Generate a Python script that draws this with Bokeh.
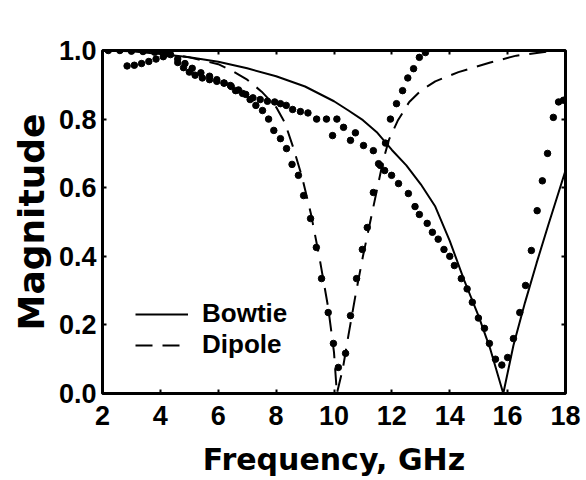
from bokeh.plotting import figure
from bokeh.models import LinearAxis, FixedTicker, Legend, LegendItem, Range1d, PrintfTickFormatter
from bokeh.embed import file_html
from bokeh.resources import INLINE

# ---- data ----
x_ticks = [2, 4, 6, 8, 10, 12, 14, 16, 18]
y_ticks = [0.0, 0.2, 0.4, 0.6, 0.8, 1.0]

bowtie_x = [2, 3, 4, 5, 6, 7, 8, 9, 10, 10.5, 11, 11.5, 12, 12.5, 13, 13.5, 14, 14.5, 15, 15.4, 15.85, 16.2, 16.6, 17.0, 17.4, 17.7, 18]
bowtie_y = [1.0, 0.998, 0.99, 0.98, 0.967, 0.948, 0.925, 0.895, 0.852, 0.825, 0.797, 0.76, 0.71, 0.665, 0.61, 0.545, 0.445, 0.33, 0.225, 0.13, 0.0, 0.14, 0.265, 0.38, 0.49, 0.57, 0.65]

dipole_x = [2, 3, 4, 5, 6, 6.5, 7, 7.5, 8, 8.3, 8.6, 8.9, 9.2, 9.5, 9.8, 10.0, 10.1, 10.3, 10.5, 10.75, 11.0, 11.25, 11.5, 11.7, 11.9, 12.2, 12.6, 13.0, 13.5, 14.3, 15.4, 16.3, 17.5, 18]
dipole_y = [1.0, 1.0, 0.995, 0.98, 0.96, 0.94, 0.915, 0.88, 0.835, 0.79, 0.715, 0.63, 0.525, 0.395, 0.25, 0.12, 0.0, 0.07, 0.17, 0.29, 0.40, 0.50, 0.60, 0.68, 0.74, 0.795, 0.85, 0.883, 0.91, 0.937, 0.965, 0.985, 0.998, 1.0]

bowtie_meas_x = [2.85, 3.1, 3.35, 3.6, 3.85, 4.1, 4.35, 4.6, 4.85, 5.1, 5.4, 5.7, 5.95, 6.2, 6.45, 6.7, 6.95, 7.2, 7.45, 7.7,
                 7.95, 8.15, 8.35, 8.57, 8.84, 9.1, 9.4, 9.74, 10.1, 10.33, 10.74, 9.95, 10.57, 11.02, 11.36, 11.6, 11.75, 11.99,
                 12.23, 12.57, 12.8, 12.95, 13.22, 13.4, 13.6, 13.8, 14.0, 14.16, 14.4, 14.6, 14.78, 14.99, 15.2, 15.37, 15.58,
                 15.8, 16.0, 16.2, 16.42, 16.62, 16.82, 17.02, 17.2, 17.38, 17.58, 17.76, 17.93]
bowtie_meas_y = [0.955, 0.957, 0.962, 0.968, 0.975, 0.982, 0.988, 0.975, 0.962, 0.948, 0.935, 0.925, 0.915, 0.905, 0.895, 0.885, 0.872, 0.862, 0.857, 0.852,
                 0.85, 0.845, 0.84, 0.828, 0.822, 0.818, 0.80, 0.80, 0.80, 0.776, 0.76, 0.752, 0.738, 0.723, 0.708, 0.665, 0.65, 0.636,
                 0.612, 0.583, 0.545, 0.522, 0.496, 0.47, 0.45, 0.42, 0.40, 0.373, 0.335, 0.305, 0.266, 0.22, 0.19, 0.146, 0.10,
                 0.083, 0.105, 0.16, 0.236, 0.315, 0.417, 0.533, 0.62, 0.70, 0.805, 0.85, 0.855]

dipole_meas_x = [2.2, 2.6, 3.0, 3.4, 3.8, 4.2, 4.6, 4.8, 5.0, 5.2, 5.45, 5.7, 5.95, 6.2, 6.42, 6.6, 6.84, 7.1, 7.3, 7.53, 7.74, 7.92,
                 8.15, 8.36, 8.55, 8.77, 8.95, 9.19, 9.39, 9.57, 9.8, 9.98, 10.15, 10.4, 10.57, 10.78, 10.98, 11.15,
                 11.36, 11.54, 11.78, 11.95, 12.16, 12.37, 12.55, 12.75, 12.95, 13.16]
dipole_meas_y = [1.0, 1.0, 0.998, 0.997, 0.995, 0.99, 0.965, 0.95, 0.937, 0.928, 0.92, 0.915, 0.91, 0.905, 0.898, 0.883, 0.875, 0.857, 0.84, 0.825, 0.80, 0.767,
                 0.743, 0.714, 0.668, 0.636, 0.577, 0.51, 0.426, 0.335, 0.236, 0.146, 0.076, 0.117, 0.227, 0.335, 0.42, 0.484,
                 0.586, 0.67, 0.73, 0.80, 0.845, 0.883, 0.92, 0.947, 0.98, 0.994]

TICK_FONT = "Liberation Sans"
LABEL_FONT = "DejaVu Sans"

p = figure(width=586, height=480, x_range=Range1d(2, 18), y_range=Range1d(0, 1),
           output_backend="svg", toolbar_location=None,
           min_border_left=102, min_border_right=21, min_border_top=50, min_border_bottom=87,
           x_axis_location=None, y_axis_location=None)
p.xgrid.visible = False
p.ygrid.visible = False
p.outline_line_color = "black"
p.outline_line_width = 3
p.outline_line_alpha = 1.0
p.background_fill_color = "white"
p.border_fill_color = "white"


def style_axis(ax, ticks, show_labels):
    ax.ticker = FixedTicker(ticks=ticks)
    ax.axis_line_color = None
    ax.major_tick_in = 4
    ax.major_tick_out = 0
    ax.major_tick_line_width = 2
    ax.major_tick_line_color = "black"
    ax.minor_tick_line_color = None
    if show_labels:
        ax.major_label_text_font = TICK_FONT
        ax.major_label_text_font_style = "bold"
        ax.major_label_text_font_size = "27px"
        ax.major_label_text_color = "black"
    else:
        ax.major_label_text_font_size = "0px"
        ax.major_label_text_color = None


bottom = LinearAxis(axis_label="Frequency, GHz")
style_axis(bottom, x_ticks, True)
bottom.major_label_standoff = 12
bottom.axis_label_standoff = 14
bottom.axis_label_text_font = LABEL_FONT
bottom.axis_label_text_font_style = "bold"
bottom.axis_label_text_font_size = "30px"
bottom.axis_label_text_color = "black"
p.add_layout(bottom, "below")

left = LinearAxis(axis_label="Magnitude", formatter=PrintfTickFormatter(format="%.1f"))
style_axis(left, y_ticks, True)
left.major_label_standoff = 6
left.axis_label_standoff = 4
left.axis_label_text_font = LABEL_FONT
left.axis_label_text_font_style = "bold"
left.axis_label_text_font_size = "36px"
left.axis_label_text_color = "black"
p.add_layout(left, "left")

top = LinearAxis()
style_axis(top, x_ticks, False)
p.add_layout(top, "above")

right = LinearAxis()
style_axis(right, y_ticks, False)
p.add_layout(right, "right")

r_bow = p.line(bowtie_x, bowtie_y, line_color="black", line_width=2)
r_dip = p.line(dipole_x, dipole_y, line_color="black", line_width=2, line_dash="17 10")
p.scatter(bowtie_meas_x, bowtie_meas_y, size=6.5, color="black")
p.scatter(dipole_meas_x, dipole_meas_y, size=6.5, color="black")

legend = Legend(items=[LegendItem(label="Bowtie", renderers=[r_bow]),
                       LegendItem(label="Dipole", renderers=[r_dip])],
                location=(33, 33), orientation="vertical",
                background_fill_alpha=0, border_line_color=None,
                glyph_width=53, glyph_height=30, label_height=30,
                label_standoff=14, spacing=0, padding=0, margin=0,
                label_text_font=TICK_FONT, label_text_font_style="bold",
                label_text_font_size="26px", label_text_color="black")
p.add_layout(legend, "center")

open("out.html", "w").write(file_html(p, INLINE))
